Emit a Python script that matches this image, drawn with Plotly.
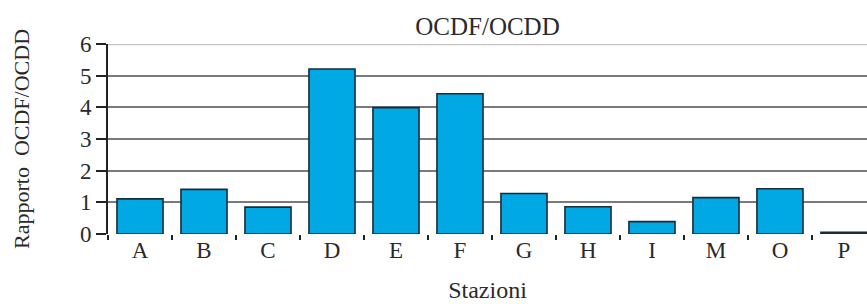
import plotly.graph_objects as go

stations = ["A", "B", "C", "D", "E", "F", "G", "H", "I", "M", "O", "P"]
ratio = [1.11, 1.41, 0.85, 5.21, 3.99, 4.43, 1.28, 0.86, 0.39, 1.15, 1.43, 0.05]
y_ticks = [0, 1, 2, 3, 4, 5, 6]

font_family = "Liberation Serif, Times New Roman, serif"
text_color = "#2a2a2a"

fig = go.Figure(
    go.Bar(
        x=stations,
        y=ratio,
        marker=dict(color="#00a8e4", line=dict(color="#1c2b38", width=1.6)),
        width=0.72,
    )
)

fig.update_layout(
    width=867,
    height=304,
    margin=dict(l=108, r=0, t=44, b=70),
    plot_bgcolor="white",
    paper_bgcolor="white",
    showlegend=False,
    font=dict(family=font_family, color=text_color, size=22),
    title=dict(
        text="OCDF/OCDD",
        x=0.5,
        xref="paper",
        xanchor="center",
        y=0.915,
        yref="container",
        yanchor="middle",
        font=dict(size=25, family=font_family, color=text_color),
    ),
    shapes=[
        dict(type="line", xref="paper", yref="y", x0=0, x1=1,
             y0=y_ticks[-1], y1=y_ticks[-1],
             line=dict(color="#c4c4c4", width=2.5), layer="above"),
    ],
)

fig.update_xaxes(
    type="category",
    range=[-0.5, 11.36],
    tickson="boundaries",
    ticks="outside",
    ticklen=5,
    tickwidth=2,
    tickcolor="#222222",
    showline=False,
    showgrid=False,
    zeroline=False,
    tickfont=dict(size=23, family=font_family, color=text_color),
    title=dict(text="Stazioni", standoff=19,
               font=dict(size=24, family=font_family, color=text_color)),
)

fig.update_yaxes(
    range=[0, 6],
    tickvals=y_ticks,
    ticktext=[str(v) for v in y_ticks],
    ticks="outside",
    ticklen=10,
    tickwidth=2,
    tickcolor="#222222",
    showline=True,
    linecolor="#222222",
    linewidth=2,
    showgrid=True,
    gridcolor="#7a7a7a",
    gridwidth=2,
    zeroline=False,
    tickfont=dict(size=23, family=font_family, color=text_color),
    title=dict(text="Rapporto  OCDF/OCDD", standoff=44,
               font=dict(size=22, family=font_family, color=text_color)),
)

fig.write_html("out.html", config={"displayModeBar": False},
               post_script="document.body.style.margin='0';")
